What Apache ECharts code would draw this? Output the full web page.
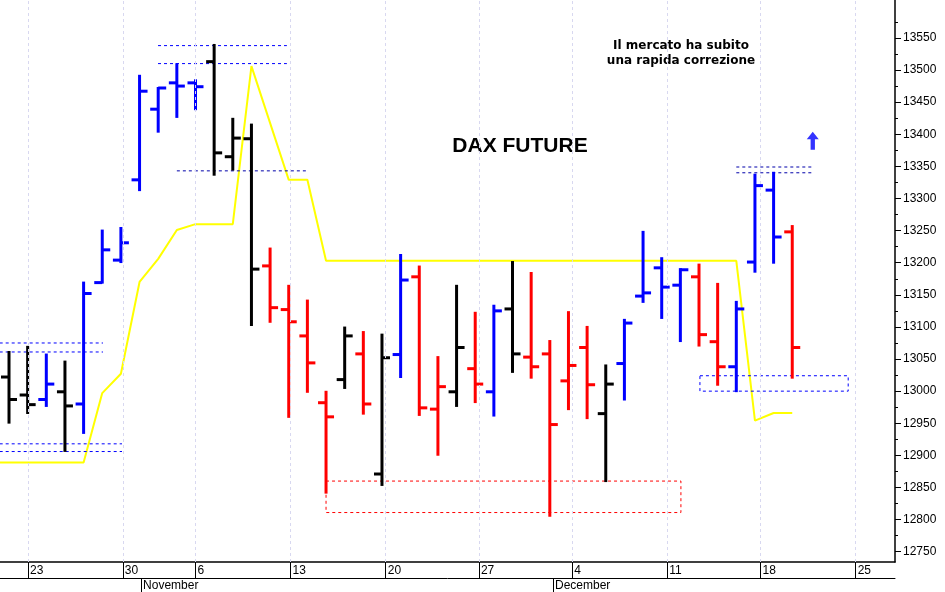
<!DOCTYPE html>
<html><head><meta charset="utf-8">
<script src="https://cdn.jsdelivr.net/npm/echarts@6/dist/echarts.min.js"></script>
<style>html,body{margin:0;padding:0;background:#fff}#c{width:945px;height:592px}</style>
</head><body><div id="c"></div>
<script>
// OHLC bars, one per trading day (index 0..42)
const opens  = [13022,12994,12987,12999,12980,13169,13204,13329,13439,13480,13480,13513,13365,13393,13195,13127,13086,12982,13018,13058,12871,13057,13178,12972,12999,13035,12999,13128,13053,13058,13016,13068,12965,13043,13148,13192,13165,13178,13077,13038,13201,13313,13248];
const highs  = [13061,13069,13057,13046,13169,13250,13254,13491,13472,13509,13484,13539,13424,13415,13222,13164,13141,12999,13099,13092,13088,13212,13194,13053,13164,13122,13133,13201,13184,13078,13123,13100,13040,13111,13248,13207,13190,13197,13167,13139,13337,13340,13257];
const lows   = [12951,12966,12977,12907,12935,13169,13201,13313,13404,13427,13439,13337,13345,13103,13108,12960,12999,12842,13005,12965,12854,13022,12963,12901,12977,12983,12962,13030,13021,12806,12972,12958,12860,12987,13139,13114,13078,13071,13010,13000,13186,13200,13021];
const closes = [12987,12979,13011,12977,13152,13220,13231,13467,13472,13475,13474,13371,13394,13190,13130,13108,13044,12960,13086,12980,13052,13173,12974,13007,13068,13011,13125,13058,13038,12948,13040,13010,13011,13106,13153,13162,13189,13088,13038,13128,13320,13240,13068];
const barColors = ['k','k','b','k','b','b','b','b','b','b','b','k','k','k','r','r','r','r','k','r','k','b','r','r','k','r','b','k','r','r','r','r','k','b','b','b','b','r','r','b','b','b','r'];
// yellow line [index, value]
const yellow = [[-1,12889],[4,12889],[5,12997],[6,13027],[7,13170],[8,13206],[9,13251],[10,13260],[12,13260],[13,13506],[15,13329],[16,13329],[17,13203],[39,13203],[40,12954],[41,12966],[42,12966]];
// week tick labels
const weekPos = [1.02,6.1,10.0,15.1,20.2,25.2,30.2,35.3,40.3,45.4];
const weekLabels = ['23','30','6','13','20','27','4','11','18','25'];
const monthPos = [7.08,29.17];
const monthLabels = ['November','December'];
const yTicks = [12750,12800,12850,12900,12950,13000,13050,13100,13150,13200,13250,13300,13350,13400,13450,13500,13550];
const yMinor = [12775,12825,12875,12925,12975,13025,13075,13125,13175,13225,13275,13325,13375,13425,13475,13525,13575];
// dashed reference levels [x0,x1,value,color]
const levels = [[-0.5,5.04,13075,'b'],[-0.5,5.04,13061,'b'],[-0.5,6.06,12918,'b'],[-0.5,6.06,12906,'b'],[7.99,14.9,13538,'b'],[7.99,14.9,13510,'b'],[9.0,15.98,13343,'k'],[39.0,43.05,13349,'k'],[39.0,43.05,13340,'k']];
// dashed boxes [x0,x1,v0,v1,color]
const boxes = [[37.05,45.0,13000,13024,'b'],[17.0,36.03,12811,12860,'r']];

const C = {k:'#000000', b:'#0000ff', r:'#ff0000'};
const ohlc = opens.map((o,i)=>[i,o,highs[i],lows[i],closes[i]]);
const chart = echarts.init(document.getElementById('c'));
chart.setOption({
  animation:false,
  grid:{left:0,right:50,top:0,bottom:30},
  xAxis:[{type:'value',min:-0.483,max:47.51,position:'bottom',
    axisLine:{onZero:false,lineStyle:{color:'#000',width:1.5}},
    axisTick:{customValues:weekPos,length:16,lineStyle:{color:'#000'}},
    axisLabel:{customValues:weekPos,formatter:v=>{const k=weekPos.findIndex(p=>Math.abs(p-v)<1e-6);return k<0?'':weekLabels[k];},
      align:'left',padding:[0,0,0,2],margin:3,color:'#000',fontFamily:'Liberation Sans',fontSize:12},
    splitLine:{show:false}},
   {type:'value',min:-0.483,max:47.51,position:'bottom',offset:16,
    axisLine:{show:true,onZero:false,lineStyle:{color:'#000',width:1}},
    axisTick:{customValues:monthPos,length:14,lineStyle:{color:'#000'}},
    axisLabel:{customValues:monthPos,formatter:v=>{const k=monthPos.findIndex(p=>Math.abs(p-v)<1e-6);return k<0?'':monthLabels[k];},
      align:'left',padding:[0,0,0,2],margin:2,color:'#000',fontFamily:'Liberation Sans',fontSize:12},
    splitLine:{show:false}}],
  yAxis:[{type:'value',position:'right',min:12734,max:13609,
    axisLine:{show:true,onZero:false,lineStyle:{color:'#000',width:1.5}},
    axisTick:{customValues:yTicks,length:6,lineStyle:{color:'#000'}},
    axisLabel:{customValues:yTicks,formatter:v=>String(v),color:'#000',fontFamily:'Liberation Sans',fontSize:12,margin:8},
    splitLine:{show:false}},
   {type:'value',position:'right',min:12734,max:13609,
    axisLine:{show:false,onZero:false},
    axisTick:{customValues:yMinor,length:3,lineStyle:{color:'#000'}},
    axisLabel:{show:false},splitLine:{show:false}}],
  series:[
    {type:'line',data:yellow,symbol:'none',lineStyle:{color:'#ffff00',width:2},z:1,
     markLine:{silent:true,symbol:'none',label:{show:false},lineStyle:{color:'#d8d8f0',type:[3,3],width:1},
       data:weekPos.map(p=>({xAxis:p}))}},
    {type:'custom',z:3,data:ohlc,renderItem:(params,api)=>{
      const x=api.value(0);
      const ph=api.coord([x,api.value(2)]), pl=api.coord([x,api.value(3)]);
      const po=api.coord([x,api.value(1)]), pc=api.coord([x,api.value(4)]);
      const col=C[barColors[params.dataIndex]];
      const st={stroke:col,lineWidth:3};
      return {type:'group',children:[
        {type:'line',shape:{x1:ph[0],y1:ph[1]-1,x2:pl[0],y2:pl[1]+1},style:st},
        {type:'line',shape:{x1:po[0]-8,y1:po[1],x2:po[0],y2:po[1]},style:st},
        {type:'line',shape:{x1:pc[0],y1:pc[1],x2:pc[0]+8,y2:pc[1]},style:st}]};
    }},
    {type:'custom',z:2,data:levels.map((l,i)=>[l[0],l[1],l[2],i]),renderItem:(params,api)=>{
      const a=api.coord([api.value(0),api.value(2)]), b=api.coord([api.value(1),api.value(2)]);
      const col=C[levels[params.dataIndex][3]]==='#000000'?'#0000aa':C[levels[params.dataIndex][3]];
      return {type:'line',shape:{x1:a[0],y1:a[1],x2:b[0],y2:b[1]},style:{stroke:col,lineWidth:1,lineDash:[3,3]}};
    }},
    {type:'custom',z:2,data:boxes.map((b,i)=>[b[0],b[1],b[2],b[3],i]),renderItem:(params,api)=>{
      const a=api.coord([api.value(0),api.value(3)]), b=api.coord([api.value(1),api.value(2)]);
      return {type:'rect',shape:{x:a[0],y:a[1],width:b[0]-a[0],height:b[1]-a[1]},
        style:{fill:'none',stroke:C[boxes[params.dataIndex][4]],lineWidth:1,lineDash:[3,3]}};
    }},
    {type:'scatter',data:[[43.1,13390]],symbol:'path://M5,0 L10,6 L6.8,6 L6.8,14 L3.2,14 L3.2,6 L0,6 Z',symbolSize:[12,18],
     itemStyle:{color:'#0000ff'},z:4}
  ],
  graphic:[
    {type:'text',x:520,y:136,style:{text:'DAX FUTURE',textAlign:'center',font:'bold 21px "Liberation Sans"',fill:'#000'}},
    {type:'text',x:681,y:38,style:{text:'Il mercato ha subito\nuna rapida correzione',textAlign:'center',font:'bold 12px "DejaVu Sans"',fill:'#000',lineHeight:15}}
  ]
});
</script></body></html>
